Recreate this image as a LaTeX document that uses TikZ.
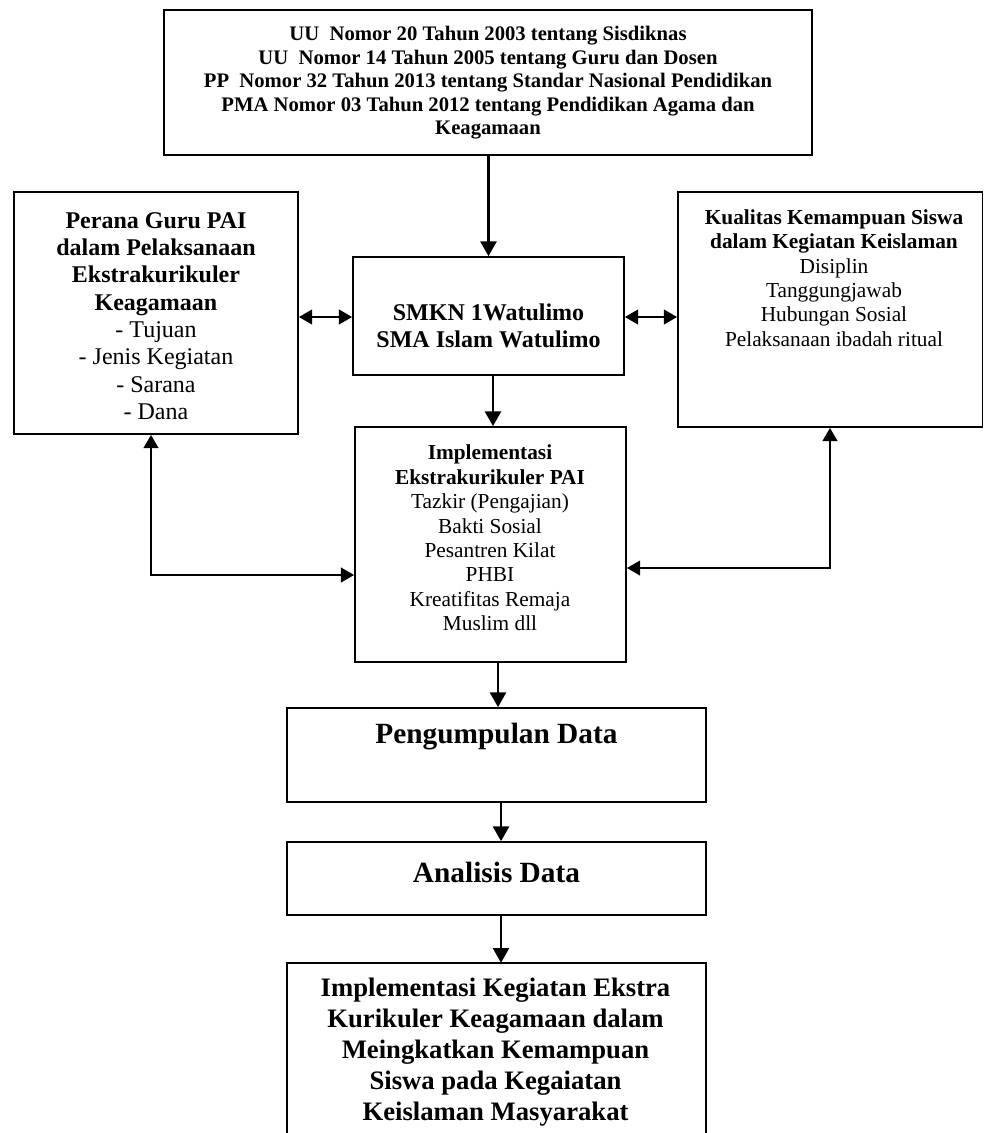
\documentclass[tikz,border=0pt]{standalone}
\usepackage{fontspec}
\setmainfont{Liberation Serif}
\usetikzlibrary{arrows.meta,fit}
\begin{document}
\begin{tikzpicture}[x=0.75pt,y=-0.75pt,
  box/.style={draw,line width=1.3pt,inner sep=0pt},
  frame/.style={inner sep=0pt},
  boxline/.style={line width=1.3pt},
  txt/.style={align=center,inner sep=0pt},
  arr/.style={line width=1.8pt,-{Triangle[length=11pt,width=12pt]}},
  darr/.style={line width=1.8pt,{Triangle[length=10pt,width=11pt]}-{Triangle[length=10pt,width=11pt]}}]
\useasboundingbox (0,0) rectangle (984,1133);

% boxes
\node[box,fit={(164,10) (812,155)}] (top) {};
\node[box,fit={(14,192) (298,434)}] (left) {};
\node[box,fit={(353,257) (624,375)}] (smkn) {};
\node[box,fit={(678,192) (982.5,427)}] (right) {};
\node[box,fit={(355,427) (626,662)}] (impl) {};
\node[box,fit={(287,708) (706,802)}] (peng) {};
\node[box,fit={(287,842) (706,915)}] (anal) {};
\node[frame,fit={(287,963) (706,1133)}] (out) {};
\draw[boxline] (out.south west) -- (out.north west) -- (out.north east) -- (out.south east);

% texts
\node[txt,font=\fontsize{15.5}{17.6}\selectfont\bfseries] (toptxt) at (488,83)
  {UU\ \ Nomor 20 Tahun 2003 tentang Sisdiknas\\
   UU\ \ Nomor 14 Tahun 2005 tentang Guru dan Dosen\\
   PP\ \ Nomor 32 Tahun 2013 tentang Standar Nasional Pendidikan\\
   PMA Nomor 03 Tahun 2012 tentang Pendidikan Agama dan\\
   Keagamaan};
\node[txt,font=\fontsize{18}{20.5}\selectfont] (lefttxt) at (156,316)
  {\textbf{Perana Guru PAI}\\
   \textbf{dalam Pelaksanaan}\\
   \textbf{Ekstrakurikuler}\\
   \textbf{Keagamaan}\\
   - Tujuan\\
   - Jenis Kegiatan\\
   - Sarana\\
   - Dana};
\node[txt,font=\fontsize{18}{20.3}\selectfont\bfseries] (smkntxt) at (488.5,326)
  {SMKN 1Watulimo\\SMA Islam Watulimo};
\node[txt,font=\fontsize{16}{18.3}\selectfont] (righttxt) at (834,278)
  {\textbf{Kualitas Kemampuan Siswa}\\
   \textbf{dalam Kegiatan Keislaman}\\
   Disiplin\\
   Tanggungjawab\\
   Hubungan Sosial\\
   Pelaksanaan ibadah ritual};
\node[txt,font=\fontsize{16}{18.3}\selectfont] (impltxt) at (490,538)
  {\textbf{Implementasi}\\
   \textbf{Ekstrakurikuler PAI}\\
   Tazkir (Pengajian)\\
   Bakti Sosial\\
   Pesantren Kilat\\
   PHBI\\
   Kreatifitas Remaja\\
   Muslim dll};
\node[txt,font=\fontsize{22}{25}\selectfont\bfseries] (pengtxt) at (496.5,737) {Pengumpulan Data};
\node[txt,font=\fontsize{22}{25}\selectfont\bfseries] (analtxt) at (496.5,872) {Analisis Data};
\node[txt,font=\fontsize{20}{23.25}\selectfont\bfseries] (outtxt) at (495.5,1052)
  {Implementasi Kegiatan Ekstra\\
   Kurikuler Keagamaan dalam\\
   Meingkatkan Kemampuan\\
   Siswa pada Kegaiatan\\
   Keislaman Masyarakat};

% connectors
\draw[arr] (top.south -| smkn.north) -- (smkn.north);
\draw[darr] (left.east |- 0,317) -- (smkn.west |- 0,317);
\draw[darr] (smkn.east |- 0,317) -- (right.west |- 0,317);
\draw[arr] (smkn.south -| 493,0) -- (impl.north -| 493,0);
\draw[darr] (left.south -| 151,0) |- (impl.west |- 0,575);
\draw[darr] (right.south -| 830,0) |- (impl.east |- 0,568);
\draw[arr] (impl.south -| 498,0) -- (peng.north -| 498,0);
\draw[arr] (peng.south -| 501,0) -- (anal.north -| 501,0);
\draw[arr] (anal.south -| 501,0) -- (out.north -| 501,0);
\end{tikzpicture}
\end{document}
